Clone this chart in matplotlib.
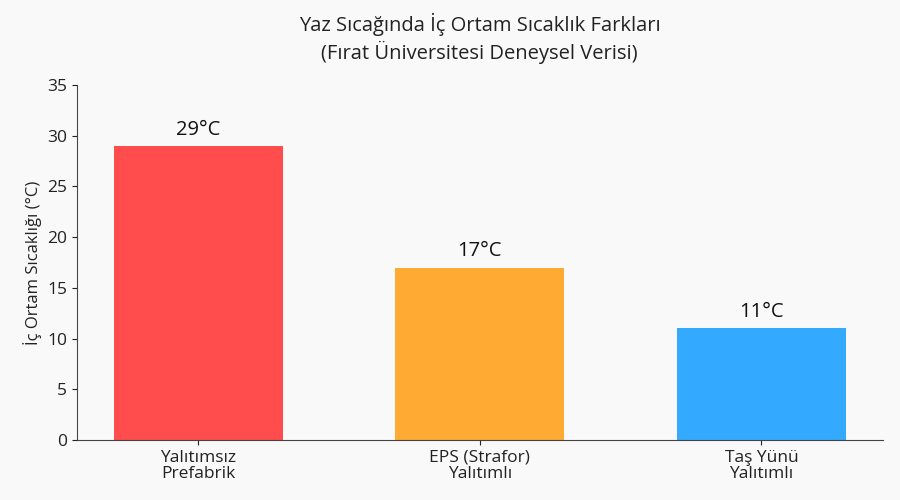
import matplotlib
matplotlib.use("Agg")
import matplotlib.pyplot as plt

categories = ["Yalıtımsız\nPrefabrik", "EPS (Strafor)\nYalıtımlı", "Taş Yünü\nYalıtımlı"]
values = [29, 17, 11]
value_labels = ["29°C", "17°C", "11°C"]
colors = ["#FF4C4C", "#FFAA33", "#33AAFF"]
yticks = [0, 5, 10, 15, 20, 25, 30, 35]

plt.rcParams['font.family'] = ['Open Sans', 'DejaVu Sans']

fig = plt.figure(figsize=(9, 5), dpi=100, facecolor="#f9f9f9")
ax_left, ax_w = 0.0856, 0.895
ax = fig.add_axes([ax_left, 0.12, ax_w, 0.71])
ax.set_facecolor("#f9f9f9")

x = list(range(len(categories)))
bars = ax.bar(x, values, width=0.6, color=colors)
for xi, v, lab in zip(x, values, value_labels):
    ax.text(xi, v + 0.6, lab, ha="center", va="bottom", fontsize=14.5, color="#111111")

ax.set_xticks(x)
ax.set_xticklabels(categories, fontsize=12.5, color="#222222", linespacing=1.0)
ax.set_ylim(0, 35)
ax.set_yticks(yticks)
ax.tick_params(axis="y", labelsize=12.5, colors="#222222")
ax.tick_params(axis="x", colors="#222222")
ax.set_ylabel("İç Ortam Sıcaklığı (°C)", fontsize=12, color="#222222")
for s in ["top", "right"]:
    ax.spines[s].set_visible(False)
for s in ["left", "bottom"]:
    ax.spines[s].set_color("#444444")

fig.text(ax_left + ax_w / 2, 0.975,
         "Yaz Sıcağında İç Ortam Sıcaklık Farkları\n(Fırat Üniversitesi Deneysel Verisi)",
         ha="center", va="top", fontsize=14.5, color="#222222", linespacing=1.3)

fig.savefig("out.png", dpi=100, facecolor=fig.get_facecolor())
